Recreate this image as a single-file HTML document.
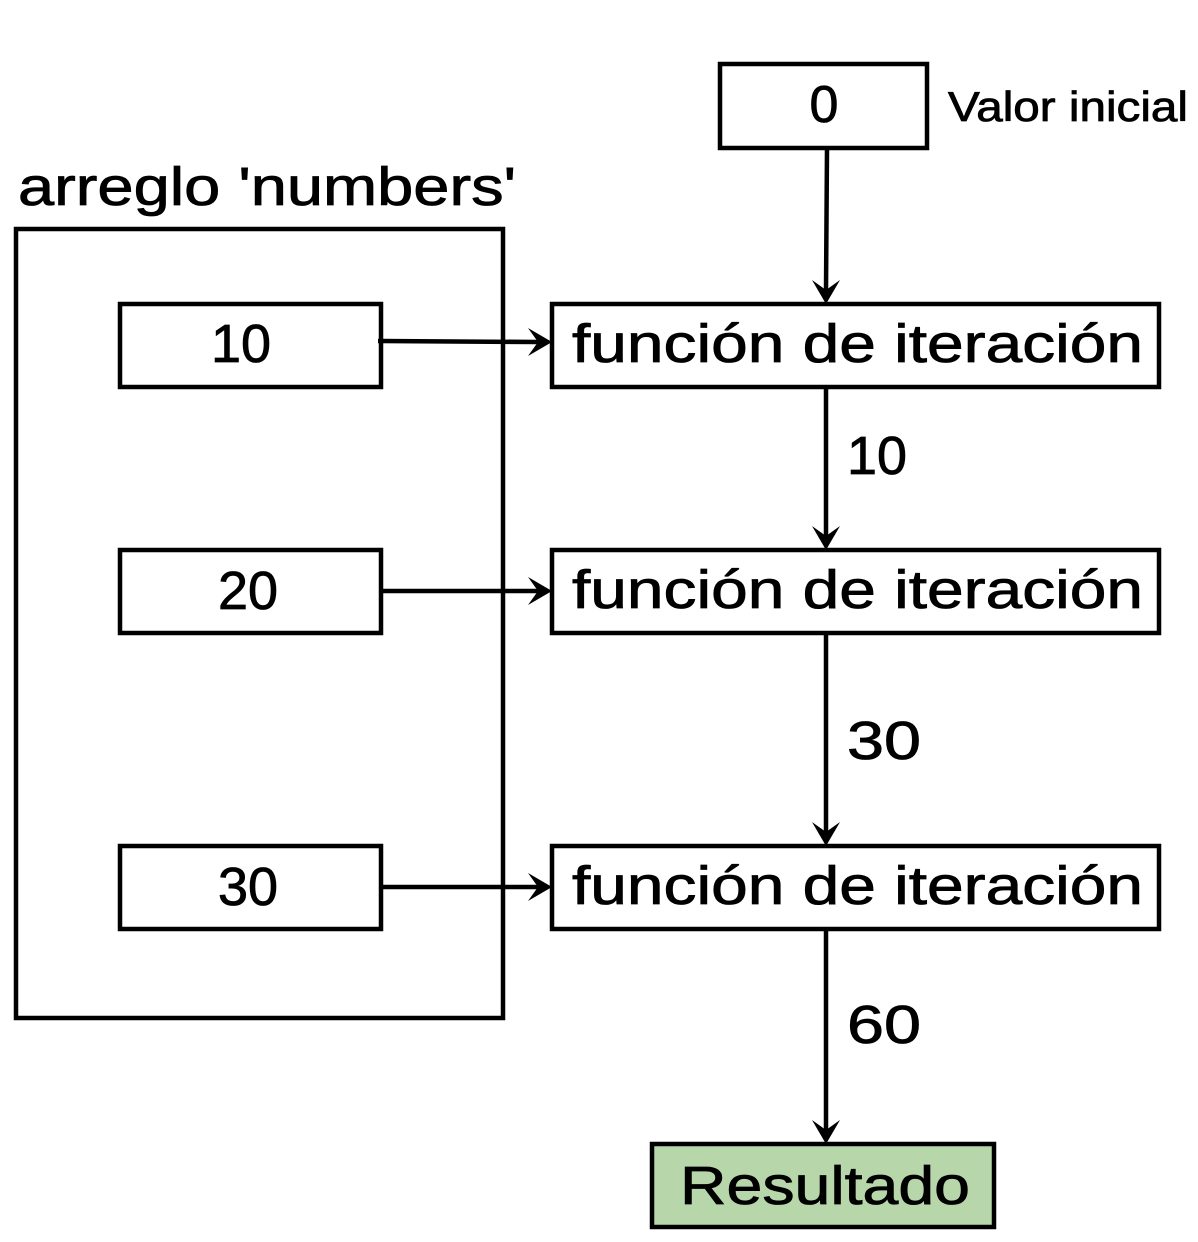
<!DOCTYPE html>
<html><head><meta charset="utf-8"><style>html,body{margin:0;padding:0;background:#fff}svg{display:block}</style></head>
<body>
<svg width="1198" height="1242" viewBox="0 0 1198 1242" xmlns="http://www.w3.org/2000/svg" font-family="Liberation Sans, sans-serif" fill="#000">
<g fill="none" stroke="#000" stroke-width="4.5">
<rect x="720" y="64" width="207" height="84"/>
<rect x="16" y="229" width="487" height="789"/>
<rect x="120" y="304" width="261" height="83"/>
<rect x="120" y="550" width="261" height="83"/>
<rect x="120" y="846" width="261" height="83"/>
<rect x="552" y="304" width="607" height="83"/>
<rect x="552" y="550" width="607" height="83"/>
<rect x="552" y="846" width="607" height="83"/>
<rect x="652" y="1144" width="342" height="83" fill="#b7d7aa"/>
<line x1="827" y1="148" x2="826" y2="290"/>
<line x1="826" y1="388" x2="826" y2="536"/>
<line x1="826" y1="634" x2="826" y2="832"/>
<line x1="826" y1="930" x2="826" y2="1130"/>
<line x1="378" y1="341" x2="538" y2="342"/>
<line x1="381" y1="591" x2="538" y2="591"/>
<line x1="381" y1="887" x2="538" y2="887"/>
</g>
<g>
<path d="M812 280 L826 304 L840 280 L826 290 Z"/>
<path d="M812 526 L826 550 L840 526 L826 536 Z"/>
<path d="M812 822 L826 846 L840 822 L826 832 Z"/>
<path d="M812 1120 L826 1144 L840 1120 L826 1130 Z"/>
<path d="M528 328 L552 342 L528 356 L538 342 Z"/>
<path d="M528 577 L552 591 L528 605 L538 591 Z"/>
<path d="M528 873 L552 887 L528 901 L538 887 Z"/>
</g>
<g font-size="54" stroke="#000" stroke-width="0.8">
<text x="824" y="122" text-anchor="middle" font-size="52">0</text>
<text x="948" y="121" font-size="42" textLength="240" lengthAdjust="spacingAndGlyphs">Valor inicial</text>
<text x="18" y="205" textLength="498" lengthAdjust="spacingAndGlyphs">arreglo 'numbers'</text>
<text x="241" y="362" text-anchor="middle">10</text>
<text x="248" y="609" text-anchor="middle">20</text>
<text x="248" y="905" text-anchor="middle">30</text>
<text x="572" y="362" textLength="571" lengthAdjust="spacingAndGlyphs">función de iteración</text>
<text x="572" y="608" textLength="571" lengthAdjust="spacingAndGlyphs">función de iteración</text>
<text x="572" y="904" textLength="571" lengthAdjust="spacingAndGlyphs">función de iteración</text>
<text x="847" y="474" textLength="60" lengthAdjust="spacingAndGlyphs">10</text>
<text x="847" y="759" textLength="74" lengthAdjust="spacingAndGlyphs">30</text>
<text x="847" y="1043" textLength="74" lengthAdjust="spacingAndGlyphs">60</text>
<text x="680" y="1204" textLength="290" lengthAdjust="spacingAndGlyphs">Resultado</text>
</g>
</svg>
</body></html>
